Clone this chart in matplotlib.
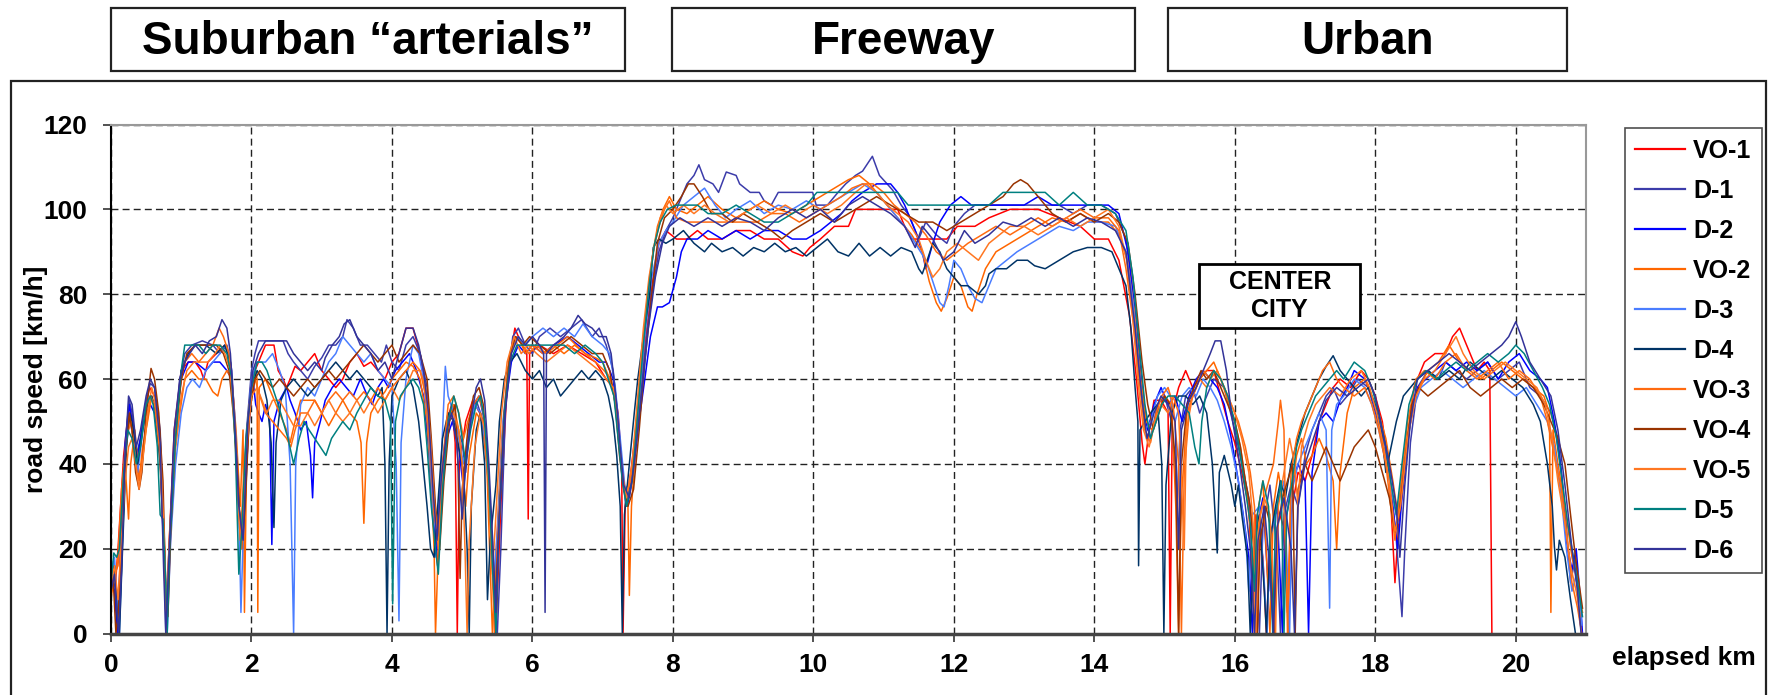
import matplotlib
matplotlib.use("Agg")
import matplotlib.pyplot as plt
from matplotlib.patches import Rectangle

plt.rcParams['font.family'] = ['Liberation Sans', 'DejaVu Sans']
plt.rcParams['font.weight'] = 'bold'

# (elapsed km, road speed km/h)
vo1 = [(0,14),(0.06,11),(0.10,20),(0.18,42),(0.26,54),(0.32,48),(0.38,40),(0.45,50),(0.55,58),(0.62,56),(0.70,44),(0.76,20),(0.79,3),(0.83,22),(0.9,48),(1.0,62),(1.1,64),(1.2,64),(1.28,62),(1.32,60),(1.38,64),(1.5,66),(1.62,68),(1.7,64),(1.76,50),(1.82,30),(1.86,22),(1.92,45),(2.0,60),(2.1,64),(2.2,68),(2.32,68),(2.38,62),(2.45,60),(2.5,58),(2.55,60),(2.62,63),(2.7,62),(2.8,64),(2.9,66),(3.0,62),(3.1,60),(3.2,58),(3.3,60),(3.4,64),(3.5,66),(3.6,63),(3.7,64),(3.8,62),(3.9,60),(4.0,64),(4.1,66),(4.2,72),(4.3,72),(4.4,66),(4.5,54),(4.57,30),(4.65,16),(4.7,30),(4.78,50),(4.85,54),(4.9,45),(4.93,0),(4.96,40),(5.05,50),(5.15,55),(5.25,52),(5.35,45),(5.42,20),(5.48,0),(5.55,30),(5.65,62),(5.75,72),(5.85,68),(5.92,66),(5.94,27),(5.96,66),(6.1,68),(6.3,66),(6.5,68),(6.7,66),(6.9,64),(7.05,60),(7.15,58),(7.22,52),(7.27,40),(7.29,0),(7.32,30),(7.4,38),(7.5,52),(7.6,68),(7.7,82),(7.8,92),(7.9,95),(8.05,93),(8.2,93),(8.35,95),(8.5,93),(8.7,93),(8.9,95),(9.1,95),(9.3,93),(9.5,93),(9.7,90),(9.85,89),(9.95,91),(10.1,93),(10.3,96),(10.5,96),(10.6,100),(10.9,100),(11.2,100),(11.3,96),(11.4,93),(11.6,93),(11.9,93),(12.05,96),(12.3,96),(12.5,98),(12.8,100),(13.2,100),(13.5,98),(13.8,96),(14.0,93),(14.2,93),(14.35,88),(14.5,75),(14.6,60),(14.68,45),(14.72,40),(14.78,48),(14.85,55),(14.95,55),(15.05,52),(15.08,0),(15.11,52),(15.2,58),(15.3,62),(15.4,58),(15.5,60),(15.6,62),(15.7,62),(15.8,56),(15.9,50),(16.0,45),(16.1,38),(16.2,30),(16.25,10),(16.3,28),(16.4,18),(16.45,0),(16.5,22),(16.6,30),(16.7,25),(16.75,5),(16.8,28),(16.9,38),(17.0,36),(17.1,42),(17.2,50),(17.3,54),(17.4,58),(17.5,60),(17.65,58),(17.8,62),(17.9,60),(18.0,56),(18.1,50),(18.2,38),(18.28,12),(18.33,25),(18.45,44),(18.55,58),(18.7,64),(18.85,66),(19.0,66),(19.1,70),(19.2,72),(19.3,68),(19.45,62),(19.55,64),(19.63,62),(19.66,0)]

d1 = [(0,12),(0.04,17),(0.07,8),(0.10,0),(0.13,18),(0.2,45),(0.26,55),(0.3,52),(0.36,42),(0.42,46),(0.5,55),(0.56,59),(0.62,58),(0.7,48),(0.76,20),(0.78,0),(0.82,18),(0.9,45),(0.98,60),(1.05,66),(1.15,68),(1.3,69),(1.45,68),(1.55,66),(1.65,68),(1.72,62),(1.78,45),(1.83,25),(1.87,20),(1.93,48),(2.0,62),(2.05,66),(2.1,69),(2.3,69),(2.45,69),(2.52,66),(2.6,64),(2.7,62),(2.8,60),(2.9,63),(3.0,65),(3.1,68),(3.2,68),(3.3,70),(3.36,74),(3.45,72),(3.55,68),(3.65,68),(3.75,66),(3.85,64),(3.92,68),(4.0,64),(4.1,62),(4.2,68),(4.3,70),(4.4,66),(4.5,58),(4.55,42),(4.6,25),(4.65,20),(4.72,40),(4.8,52),(4.9,50),(5.0,45),(5.05,38),(5.1,48),(5.2,55),(5.3,50),(5.4,30),(5.45,10),(5.5,0),(5.55,20),(5.62,55),(5.72,70),(5.8,72),(5.9,68),(6.0,66),(6.1,70),(6.25,72),(6.4,70),(6.55,72),(6.7,74),(6.85,70),(6.95,72),(7.05,68),(7.15,62),(7.22,50),(7.28,38),(7.33,30),(7.4,36),(7.5,50),(7.6,66),(7.7,80),(7.8,90),(7.9,95),(8.0,98),(8.1,102),(8.2,106),(8.3,108),(8.37,110.5),(8.45,107),(8.57,106),(8.65,104),(8.76,108.8),(8.9,108),(8.95,106),(9.1,104),(9.23,104),(9.3,102),(9.4,101),(9.5,104),(9.61,104),(9.8,104),(9.99,104),(10.04,101),(10.2,101),(10.35,104),(10.46,106),(10.6,108),(10.7,109),(10.84,112.5),(10.94,108),(11.05,106),(11.13,104.5),(11.25,101),(11.36,98.6),(11.45,95),(11.5,93),(11.6,97),(11.75,94),(11.9,92),(12.0,96),(12.15,99),(12.3,101),(12.5,101),(12.7,101),(12.9,101),(13.1,101),(13.3,101),(13.5,101),(13.7,99),(13.9,101),(14.1,101),(14.3,99),(14.45,93),(14.55,80),(14.65,62),(14.73,50),(14.8,46),(14.9,54),(15.0,56),(15.1,50),(15.18,30),(15.22,48),(15.3,56),(15.4,58),(15.5,52),(15.6,56),(15.7,60),(15.85,58),(16.0,48),(16.1,40),(16.2,32),(16.3,18),(16.35,0),(16.4,25),(16.5,35),(16.6,20),(16.65,0),(16.7,28),(16.8,35),(16.9,30),(17.0,42),(17.1,48),(17.2,52),(17.3,56),(17.4,58),(17.5,54),(17.6,56),(17.75,60),(17.9,58),(18.0,52),(18.1,46),(18.2,38),(18.3,22),(18.38,4),(18.42,20),(18.5,45),(18.6,58),(18.75,62),(18.9,60),(19.0,64),(19.15,62),(19.3,60),(19.45,62),(19.6,64),(19.75,60),(19.9,62),(20.05,64),(20.2,58),(20.35,56),(20.5,52),(20.6,46),(20.7,30),(20.78,12),(20.85,18),(20.9,5),(20.94,0)]

d2 = [(0,14),(0.05,10),(0.09,0),(0.13,16),(0.2,44),(0.26,54),(0.3,50),(0.36,40),(0.44,48),(0.5,52),(0.56,54),(0.62,52),(0.7,42),(0.76,15),(0.79,0),(0.84,20),(0.9,46),(1.0,60),(1.1,64),(1.2,64),(1.35,62),(1.45,64),(1.55,64),(1.65,62),(1.72,60),(1.78,44),(1.84,24),(1.88,20),(1.95,46),(2.02,60),(2.06,54),(2.1,52),(2.15,50),(2.2,54),(2.26,50),(2.29,21),(2.32,50),(2.4,55),(2.5,58),(2.55,55),(2.62,52),(2.7,48),(2.78,50),(2.84,42),(2.87,32),(2.9,45),(2.98,50),(3.05,55),(3.15,58),(3.25,60),(3.35,58),(3.45,56),(3.55,60),(3.65,56),(3.72,54),(3.8,58),(3.88,60),(3.95,58),(4.05,62),(4.15,64),(4.25,66),(4.35,62),(4.45,56),(4.52,44),(4.58,28),(4.63,18),(4.7,32),(4.78,46),(4.86,50),(4.95,44),(5.02,34),(5.08,46),(5.16,54),(5.24,56),(5.32,50),(5.38,36),(5.44,15),(5.47,0),(5.52,28),(5.6,52),(5.7,64),(5.8,68),(5.9,66),(6.0,68),(6.15,66),(6.3,68),(6.5,70),(6.65,68),(6.8,66),(6.95,64),(7.05,64),(7.15,60),(7.22,50),(7.28,38),(7.35,30),(7.42,36),(7.5,48),(7.6,60),(7.68,70),(7.78,77),(7.85,77),(7.95,78),(8.05,84),(8.12,90),(8.2,93),(8.35,93),(8.5,95),(8.7,93),(8.9,95),(9.1,93),(9.3,95),(9.5,95),(9.7,93),(9.9,93),(10.1,95),(10.25,97),(10.4,99),(10.55,102),(10.7,104),(10.9,106),(11.1,106),(11.2,104),(11.3,101),(11.45,95),(11.55,90),(11.6,86),(11.7,92),(11.8,97),(11.95,101),(12.1,103),(12.25,101),(12.4,101),(12.6,101),(12.8,101),(13.0,101),(13.2,103),(13.4,101),(13.6,101),(13.8,101),(14.0,101),(14.2,101),(14.35,99),(14.48,90),(14.58,76),(14.68,58),(14.76,48),(14.85,54),(14.95,58),(15.05,54),(15.15,56),(15.25,50),(15.35,56),(15.45,60),(15.55,62),(15.65,60),(15.75,58),(15.85,54),(15.95,46),(16.05,36),(16.12,28),(16.2,18),(16.25,0),(16.3,24),(16.4,32),(16.48,10),(16.52,24),(16.6,30),(16.68,0),(16.72,26),(16.8,34),(16.9,40),(17.0,36),(17.05,0),(17.1,38),(17.2,50),(17.3,52),(17.4,50),(17.5,55),(17.6,58),(17.7,62),(17.85,60),(17.95,56),(18.05,50),(18.15,44),(18.25,30),(18.32,20),(18.38,32),(18.48,48),(18.6,58),(18.72,60),(18.85,62),(19.0,64),(19.15,62),(19.3,64),(19.45,62),(19.6,64),(19.75,60),(19.9,64),(20.05,66),(20.2,62),(20.35,60),(20.45,58),(20.55,50),(20.65,38),(20.72,22),(20.8,15),(20.86,20),(20.92,8),(20.95,0)]

vo2 = [(0,8),(0.05,14),(0.1,16),(0.15,30),(0.2,40),(0.25,27),(0.28,40),(0.34,48),(0.4,36),(0.45,44),(0.52,50),(0.58,56),(0.64,52),(0.7,40),(0.76,18),(0.79,2),(0.84,22),(0.9,42),(0.98,52),(1.05,60),(1.15,62),(1.25,60),(1.35,60),(1.45,57),(1.52,56),(1.58,60),(1.65,62),(1.72,60),(1.78,48),(1.84,30),(1.88,48),(1.9,5),(1.93,40),(2.0,58),(2.05,62),(2.08,60),(2.09,5),(2.11,58),(2.2,60),(2.3,56),(2.4,52),(2.5,48),(2.55,45),(2.62,50),(2.7,55),(2.8,55),(2.9,55),(3.0,52),(3.1,49),(3.2,52),(3.3,55),(3.4,52),(3.5,50),(3.56,45),(3.6,26),(3.64,45),(3.7,52),(3.8,55),(3.9,57),(4.0,60),(4.1,62),(4.2,64),(4.3,63),(4.4,60),(4.5,50),(4.56,35),(4.6,20),(4.62,0),(4.66,20),(4.72,40),(4.8,50),(4.88,54),(4.95,48),(5.0,40),(5.05,30),(5.1,42),(5.2,52),(5.28,50),(5.35,40),(5.4,15),(5.43,0),(5.48,18),(5.56,45),(5.65,62),(5.72,68),(5.8,70),(5.9,66),(6.0,68),(6.15,66),(6.3,68),(6.45,66),(6.6,68),(6.75,66),(6.9,65),(7.0,64),(7.1,60),(7.18,56),(7.25,44),(7.3,36),(7.36,30),(7.38,9),(7.41,30),(7.48,46),(7.55,62),(7.62,76),(7.7,88),(7.78,96),(7.86,100),(7.95,103),(8.05,100),(8.2,99),(8.35,101),(8.5,103),(8.7,100),(8.9,98),(9.1,100),(9.3,102),(9.5,100),(9.7,99),(9.9,101),(10.1,103),(10.3,105),(10.5,107),(10.65,108),(10.8,106),(10.95,103),(11.1,100),(11.25,97),(11.4,94),(11.55,90),(11.65,83),(11.75,78),(11.82,76),(11.9,79),(12.0,84),(12.1,82),(12.2,77),(12.26,76),(12.33,80),(12.45,86),(12.6,90),(12.8,92),(13.0,94),(13.2,96),(13.4,98),(13.6,97),(13.8,99),(14.0,97),(14.2,97),(14.35,94),(14.47,88),(14.57,76),(14.66,60),(14.74,50),(14.82,48),(14.9,52),(15.0,56),(15.1,54),(15.16,30),(15.2,0),(15.24,32),(15.32,52),(15.4,56),(15.5,60),(15.6,62),(15.7,64),(15.8,60),(15.9,55),(16.0,50),(16.08,44),(16.15,36),(16.22,25),(16.28,0),(16.32,28),(16.4,36),(16.46,15),(16.5,0),(16.55,30),(16.62,38),(16.7,30),(16.76,0),(16.8,32),(16.88,42),(16.95,46),(17.02,40),(17.1,42),(17.2,46),(17.3,42),(17.4,36),(17.45,20),(17.5,38),(17.6,52),(17.7,58),(17.85,60),(17.95,56),(18.05,52),(18.15,46),(18.25,36),(18.32,28),(18.4,40),(18.5,52),(18.62,58),(18.75,62),(18.9,64),(19.05,68),(19.2,64),(19.35,62),(19.5,60),(19.65,62),(19.8,64),(19.95,62),(20.1,60),(20.25,58),(20.4,56),(20.48,52),(20.5,5),(20.53,48),(20.6,40),(20.7,30),(20.8,18),(20.88,12),(20.95,5)]

d3 = [(0,12),(0.05,18),(0.08,10),(0.12,0),(0.16,20),(0.22,46),(0.27,50),(0.32,46),(0.38,38),(0.44,46),(0.5,54),(0.56,56),(0.62,54),(0.7,46),(0.76,20),(0.8,0),(0.85,22),(0.92,40),(1.0,52),(1.08,58),(1.16,60),(1.26,58),(1.35,62),(1.45,64),(1.55,66),(1.62,68),(1.7,64),(1.76,52),(1.82,30),(1.85,5),(1.88,22),(1.94,48),(2.0,60),(2.08,64),(2.2,64),(2.3,66),(2.4,62),(2.48,58),(2.55,40),(2.6,0),(2.63,40),(2.7,54),(2.8,58),(2.9,56),(3.0,60),(3.1,64),(3.2,66),(3.3,70),(3.4,68),(3.5,66),(3.6,64),(3.7,66),(3.8,62),(3.9,60),(4.0,58),(4.06,40),(4.1,3),(4.13,45),(4.2,60),(4.3,68),(4.38,66),(4.45,60),(4.52,48),(4.58,30),(4.64,22),(4.7,40),(4.76,63),(4.8,56),(4.88,52),(4.95,46),(5.02,40),(5.1,48),(5.18,54),(5.26,52),(5.34,44),(5.4,28),(5.45,12),(5.5,24),(5.58,50),(5.68,66),(5.78,70),(5.88,68),(6.0,70),(6.15,72),(6.3,70),(6.45,72),(6.6,70),(6.72,73),(6.85,70),(7.0,68),(7.1,66),(7.18,58),(7.25,46),(7.32,34),(7.4,36),(7.5,52),(7.6,70),(7.7,84),(7.8,92),(7.9,95),(8.0,97),(8.15,101),(8.3,103),(8.45,105),(8.6,101),(8.75,98),(8.9,100),(9.1,102),(9.3,99),(9.5,101),(9.7,100),(9.9,102),(10.1,100),(10.3,102),(10.5,104),(10.7,106),(10.9,104),(11.1,100),(11.3,96),(11.45,92),(11.6,88),(11.72,82),(11.8,78),(11.86,77),(11.93,82),(12.0,88),(12.1,86),(12.2,82),(12.3,79),(12.4,78),(12.5,82),(12.6,86),(12.75,88),(12.9,90),(13.1,92),(13.3,94),(13.5,96),(13.7,95),(13.9,97),(14.1,97),(14.3,96),(14.45,90),(14.55,78),(14.65,60),(14.72,48),(14.8,50),(14.9,56),(15.0,58),(15.08,56),(15.15,50),(15.25,56),(15.35,58),(15.45,56),(15.55,60),(15.65,58),(15.75,55),(15.85,50),(15.95,44),(16.05,36),(16.15,24),(16.2,10),(16.25,28),(16.35,30),(16.42,12),(16.46,0),(16.5,22),(16.6,30),(16.7,36),(16.78,0),(16.82,34),(16.9,40),(17.0,44),(17.1,48),(17.2,52),(17.3,48),(17.35,6),(17.38,48),(17.45,54),(17.55,56),(17.7,60),(17.85,58),(17.95,54),(18.05,48),(18.15,40),(18.25,32),(18.32,26),(18.42,40),(18.52,52),(18.65,58),(18.8,60),(18.95,62),(19.1,60),(19.25,58),(19.4,60),(19.55,62),(19.7,60),(19.85,58),(20.0,56),(20.15,58),(20.3,54),(20.45,50),(20.55,44),(20.65,32),(20.72,20),(20.8,10),(20.88,15),(20.94,2)]

d4 = [(0,14),(0.05,16),(0.09,4),(0.12,0),(0.16,18),(0.22,44),(0.27,52),(0.32,48),(0.38,40),(0.45,48),(0.52,54),(0.58,56),(0.64,52),(0.7,40),(0.76,20),(0.79,0),(0.84,24),(0.92,48),(1.0,62),(1.1,66),(1.2,68),(1.35,68),(1.5,66),(1.62,68),(1.7,64),(1.76,50),(1.82,30),(1.87,22),(1.94,46),(2.0,58),(2.08,62),(2.15,60),(2.22,55),(2.28,45),(2.32,25),(2.35,45),(2.42,55),(2.5,58),(2.6,60),(2.7,58),(2.8,56),(2.9,58),(3.0,60),(3.1,62),(3.2,64),(3.3,62),(3.4,60),(3.5,62),(3.6,60),(3.7,58),(3.8,56),(3.86,58),(3.9,40),(3.93,0),(3.96,40),(4.0,56),(4.1,60),(4.2,62),(4.3,58),(4.38,50),(4.43,42),(4.5,30),(4.55,20),(4.6,18),(4.66,32),(4.72,46),(4.8,52),(4.88,50),(4.95,44),(5.02,38),(5.07,20),(5.1,0),(5.13,30),(5.2,48),(5.26,52),(5.32,40),(5.36,8),(5.4,22),(5.48,35),(5.53,50),(5.6,60),(5.68,64),(5.78,66),(5.9,62),(6.0,60),(6.1,62),(6.2,58),(6.3,60),(6.4,56),(6.5,58),(6.6,60),(6.7,62),(6.8,60),(6.9,62),(7.0,60),(7.08,56),(7.15,50),(7.2,42),(7.25,30),(7.28,0),(7.31,28),(7.38,40),(7.45,52),(7.5,60),(7.58,70),(7.67,80),(7.72,91),(7.8,93),(7.9,92),(8.0,93),(8.15,95),(8.3,92),(8.45,90),(8.55,92),(8.7,90),(8.85,91),(9.0,89),(9.15,91),(9.3,90),(9.45,92),(9.6,90),(9.75,91),(9.9,89),(10.05,91),(10.2,93),(10.35,90),(10.5,89),(10.65,92),(10.8,89),(10.95,91),(11.1,89),(11.25,91),(11.4,90),(11.5,86),(11.55,84.8),(11.62,88),(11.7,92),(11.8,90),(11.9,86),(12.0,84),(12.1,82),(12.2,82),(12.35,80),(12.45,82),(12.5,84.8),(12.6,86),(12.75,86),(12.9,88),(13.05,88),(13.15,86.7),(13.3,86),(13.5,88),(13.7,90),(13.9,91),(14.1,91),(14.25,90),(14.35,86),(14.45,82),(14.52,72),(14.58,58),(14.62,50),(14.63,16),(14.65,48),(14.72,50),(14.8,52),(14.9,54),(14.96,40),(14.99,0),(15.02,35),(15.1,52),(15.2,56),(15.3,56),(15.4,54),(15.5,56),(15.6,52),(15.68,40),(15.73,25),(15.75,19),(15.78,38),(15.85,42),(15.95,35),(16.0,30),(16.05,35),(16.1,28),(16.18,18),(16.22,0),(16.26,20),(16.35,28),(16.42,10),(16.45,0),(16.5,22),(16.58,30),(16.65,36),(16.72,32),(16.8,40),(16.9,46),(17.0,52),(17.1,56),(17.2,60),(17.3,63),(17.4,65.5),(17.5,62),(17.6,60),(17.7,58),(17.8,56),(17.9,58),(18.0,54),(18.1,46),(18.15,38),(18.2,42),(18.3,50),(18.4,56),(18.5,58),(18.6,60),(18.75,62),(18.9,60),(19.05,62),(19.2,60),(19.35,64),(19.5,62),(19.65,60),(19.8,62),(19.95,60),(20.1,58),(20.25,54),(20.35,50),(20.45,40),(20.52,30),(20.55,20.5),(20.58,15),(20.62,22),(20.7,18),(20.78,8),(20.85,0)]

vo3 = [(0,16),(0.05,12),(0.1,18),(0.15,34),(0.22,46),(0.28,50),(0.33,44),(0.38,36),(0.44,40),(0.5,48),(0.56,56),(0.62,54),(0.7,42),(0.76,16),(0.79,0),(0.83,18),(0.9,44),(0.98,58),(1.05,64),(1.15,66),(1.25,64),(1.35,66),(1.45,68),(1.54,72),(1.6,70),(1.68,66),(1.75,54),(1.8,36),(1.84,22),(1.9,40),(1.97,54),(2.05,60),(2.12,56),(2.2,52),(2.3,50),(2.4,48),(2.5,46),(2.56,44),(2.62,48),(2.7,52),(2.8,52),(2.9,55),(3.0,52),(3.1,55),(3.2,57),(3.3,55),(3.4,57),(3.5,55),(3.6,57),(3.7,55),(3.8,58),(3.9,55),(4.0,58),(4.1,60),(4.2,62),(4.3,64),(4.4,62),(4.48,56),(4.55,42),(4.6,28),(4.66,22),(4.72,40),(4.8,54),(4.88,56),(4.95,52),(5.02,46),(5.08,50),(5.16,54),(5.24,56),(5.3,52),(5.36,38),(5.42,18),(5.46,0),(5.5,20),(5.58,48),(5.66,64),(5.76,70),(5.86,68),(5.95,66),(6.05,68),(6.2,66),(6.35,68),(6.5,70),(6.62,68),(6.75,66),(6.9,64),(7.02,62),(7.12,60),(7.2,52),(7.26,40),(7.32,32),(7.4,36),(7.48,50),(7.56,66),(7.64,80),(7.72,90),(7.8,96),(7.88,100),(7.95,102),(8.05,98),(8.2,97),(8.4,97),(8.6,97),(8.8,97),(9.0,97),(9.2,97),(9.4,99),(9.6,99),(9.8,97),(10.0,99),(10.2,101),(10.4,103),(10.55,105),(10.7,106),(10.85,106),(11.0,104),(11.15,101),(11.3,99),(11.45,97),(11.6,94),(11.75,90),(11.9,88),(12.05,90),(12.2,92),(12.4,94),(12.6,96),(12.8,94),(13.0,96),(13.2,98),(13.4,96),(13.6,98),(13.8,100),(14.0,98),(14.2,98),(14.35,95),(14.45,86),(14.55,74),(14.65,58),(14.72,48),(14.8,45),(14.88,52),(14.96,56),(15.05,58),(15.12,54),(15.2,40),(15.24,0),(15.28,38),(15.36,54),(15.45,58),(15.55,62),(15.65,60),(15.75,62),(15.85,58),(15.95,54),(16.05,50),(16.15,44),(16.22,38),(16.28,30),(16.32,0),(16.36,28),(16.45,34),(16.55,40),(16.62,50),(16.65,55),(16.7,48),(16.75,0),(16.8,38),(16.88,46),(16.95,50),(17.05,54),(17.15,58),(17.25,62),(17.35,64),(17.45,60),(17.55,58),(17.7,56),(17.85,58),(17.95,54),(18.05,48),(18.15,40),(18.22,30),(18.28,22),(18.36,34),(18.46,50),(18.58,60),(18.7,62),(18.85,60),(19.0,64),(19.15,66),(19.3,62),(19.45,60),(19.6,62),(19.75,64),(19.9,60),(20.05,62),(20.2,60),(20.35,56),(20.45,50),(20.55,42),(20.65,34),(20.72,24),(20.8,12),(20.88,6),(20.94,0)]

vo4 = [(0,18),(0.04,10),(0.07,0),(0.1,4),(0.14,18),(0.2,40),(0.26,52),(0.3,48),(0.35,38),(0.4,34),(0.44,38),(0.5,52),(0.57,62.5),(0.62,60),(0.68,52),(0.74,36),(0.78,10),(0.81,4),(0.85,24),(0.92,46),(1.0,60),(1.08,66),(1.2,68),(1.3,68),(1.4,68),(1.5,68),(1.6,66),(1.68,62),(1.74,52),(1.8,38),(1.86,20),(1.91,30),(1.97,52),(2.05,60),(2.12,62),(2.2,60),(2.3,58),(2.4,60),(2.5,58),(2.6,56),(2.7,58),(2.8,60),(2.9,58),(3.0,60),(3.1,62),(3.2,60),(3.3,62),(3.4,64),(3.5,66),(3.6,68),(3.7,66),(3.8,64),(3.9,66),(4.0,68),(4.1,64),(4.2,66),(4.3,68),(4.4,66),(4.5,60),(4.56,46),(4.62,30),(4.68,20),(4.74,36),(4.82,50),(4.9,54),(4.94,40),(4.97,13),(5.0,34),(5.08,48),(5.16,56),(5.24,58),(5.3,54),(5.36,40),(5.42,22),(5.47,8),(5.52,24),(5.6,52),(5.68,66),(5.76,70),(5.86,68),(5.96,70),(6.1,68),(6.25,66),(6.4,68),(6.55,70),(6.7,68),(6.85,66),(7.0,66),(7.1,62),(7.18,54),(7.24,42),(7.3,34),(7.36,30),(7.44,34),(7.52,48),(7.6,64),(7.7,80),(7.78,92),(7.88,98),(8.0,100),(8.12,103),(8.22,106),(8.3,106),(8.42,103),(8.55,99),(8.7,99),(8.85,97),(9.0,99),(9.2,97),(9.4,95),(9.55,93),(9.7,95),(9.9,97),(10.1,99),(10.3,97),(10.5,99),(10.7,101),(10.9,103),(11.1,101),(11.3,99),(11.5,97),(11.7,97),(11.9,95),(12.1,97),(12.3,99),(12.5,101),(12.7,103),(12.85,106),(12.95,107),(13.05,106),(13.2,103),(13.4,99),(13.6,97),(13.8,99),(14.0,97),(14.2,99),(14.35,97),(14.48,92),(14.58,80),(14.68,64),(14.76,54),(14.84,48),(14.92,52),(15.0,56),(15.08,54),(15.16,40),(15.2,0),(15.24,40),(15.32,54),(15.42,58),(15.52,62),(15.6,60),(15.7,62),(15.8,58),(15.9,54),(16.0,50),(16.08,44),(16.15,36),(16.22,30),(16.28,18),(16.32,0),(16.36,22),(16.44,30),(16.5,26),(16.56,0),(16.6,24),(16.68,32),(16.75,36),(16.82,40),(16.86,0),(16.9,34),(17.0,40),(17.1,36),(17.2,40),(17.3,44),(17.4,40),(17.5,36),(17.6,40),(17.7,44),(17.8,46),(17.9,48),(18.0,44),(18.1,38),(18.2,32),(18.28,24),(18.34,28),(18.42,40),(18.52,54),(18.62,58),(18.75,56),(18.9,58),(19.05,60),(19.2,62),(19.35,58),(19.5,56),(19.65,58),(19.8,60),(19.95,58),(20.1,60),(20.25,58),(20.4,54),(20.5,50),(20.6,46),(20.7,40),(20.78,28),(20.85,18),(20.9,12),(20.95,6)]

vo5 = [(0,12),(0.05,16),(0.1,8),(0.14,20),(0.2,36),(0.25,44),(0.3,46),(0.35,40),(0.4,34),(0.46,42),(0.52,52),(0.58,58),(0.64,54),(0.7,44),(0.76,22),(0.79,6),(0.84,26),(0.92,44),(1.0,56),(1.08,62),(1.18,64),(1.28,64),(1.38,64),(1.48,66),(1.56,68),(1.62,66),(1.7,62),(1.76,48),(1.82,28),(1.86,20),(1.92,42),(2.0,56),(2.08,58),(2.15,55),(2.22,52),(2.3,55),(2.4,55),(2.5,52),(2.6,49),(2.7,49),(2.8,52),(2.9,49),(3.0,52),(3.1,55),(3.2,52),(3.3,50),(3.4,52),(3.5,55),(3.6,52),(3.7,55),(3.8,52),(3.9,55),(4.0,58),(4.1,55),(4.2,58),(4.3,62),(4.4,62),(4.48,58),(4.55,46),(4.6,32),(4.66,20),(4.72,38),(4.8,50),(4.88,52),(4.95,48),(5.0,40),(5.04,20),(5.07,0),(5.1,22),(5.18,44),(5.26,52),(5.32,48),(5.38,34),(5.43,14),(5.48,28),(5.56,52),(5.64,64),(5.74,70),(5.84,66),(5.94,68),(6.06,66),(6.2,64),(6.35,66),(6.5,68),(6.65,66),(6.8,64),(6.95,62),(7.05,60),(7.15,58),(7.22,48),(7.28,38),(7.34,32),(7.42,40),(7.5,56),(7.58,72),(7.66,84),(7.74,92),(7.82,98),(7.9,101),(8.0,99),(8.15,101),(8.3,99),(8.45,101),(8.6,99),(8.8,97),(9.0,99),(9.2,101),(9.4,99),(9.6,101),(9.8,99),(10.0,101),(10.2,99),(10.4,101),(10.6,104),(10.75,106),(10.9,104),(11.05,101),(11.2,99),(11.35,97),(11.5,93),(11.6,88),(11.7,84),(11.8,86),(11.9,90),(12.05,92),(12.2,90),(12.35,88),(12.5,92),(12.65,94),(12.8,96),(13.0,96),(13.2,94),(13.4,96),(13.6,98),(13.8,96),(14.0,98),(14.2,100),(14.35,96),(14.46,88),(14.55,74),(14.63,58),(14.7,48),(14.78,44),(14.86,50),(14.95,54),(15.05,52),(15.12,56),(15.2,52),(15.28,20),(15.31,48),(15.4,56),(15.5,60),(15.6,58),(15.7,62),(15.8,60),(15.9,56),(16.0,52),(16.1,46),(16.2,38),(16.26,26),(16.3,0),(16.34,26),(16.42,32),(16.5,28),(16.58,0),(16.62,30),(16.7,38),(16.78,46),(16.85,40),(16.9,30),(16.95,44),(17.05,50),(17.15,54),(17.25,56),(17.35,58),(17.5,56),(17.65,60),(17.8,62),(17.92,58),(18.02,52),(18.12,44),(18.2,36),(18.28,24),(18.36,30),(18.46,46),(18.58,56),(18.7,60),(18.85,62),(19.0,66),(19.15,70),(19.25,66),(19.4,62),(19.55,60),(19.7,62),(19.85,64),(20.0,62),(20.15,60),(20.3,58),(20.42,54),(20.52,46),(20.6,36),(20.7,26),(20.78,16),(20.86,10),(20.92,4)]

d5 = [(0,12),(0.04,19),(0.08,18),(0.12,20),(0.18,38),(0.24,48),(0.3,46),(0.36,40),(0.42,44),(0.5,54),(0.56,56),(0.6,54),(0.66,44),(0.7,28),(0.74,27),(0.78,12),(0.8,0),(0.84,22),(0.92,46),(1.0,62),(1.05,68),(1.15,68),(1.25,68),(1.35,66),(1.45,68),(1.55,68),(1.65,66),(1.72,60),(1.77,44),(1.82,14),(1.86,24),(1.92,46),(2.0,58),(2.08,64),(2.15,64),(2.22,62),(2.3,58),(2.38,54),(2.45,50),(2.52,46),(2.6,40),(2.68,46),(2.75,50),(2.82,48),(2.9,46),(2.98,44),(3.06,42),(3.14,46),(3.22,48),(3.3,50),(3.4,48),(3.5,52),(3.6,55),(3.7,58),(3.8,56),(3.9,55),(3.98,50),(4.01,7),(4.05,50),(4.12,56),(4.2,58),(4.3,60),(4.38,58),(4.45,54),(4.5,44),(4.56,30),(4.62,20),(4.66,14),(4.72,34),(4.8,50),(4.88,56),(4.95,52),(5.0,46),(5.05,40),(5.12,48),(5.2,54),(5.26,56),(5.32,50),(5.38,36),(5.43,16),(5.48,0),(5.52,24),(5.6,52),(5.68,64),(5.78,68),(5.88,68),(6.0,68),(6.15,68),(6.3,68),(6.45,68),(6.6,66),(6.75,68),(6.9,66),(7.0,64),(7.08,60),(7.16,56),(7.22,46),(7.28,36),(7.34,30),(7.42,36),(7.5,52),(7.58,68),(7.66,82),(7.74,92),(7.82,97),(7.92,100),(8.05,101),(8.2,101),(8.35,101),(8.5,99),(8.7,99),(8.9,101),(9.1,99),(9.3,97),(9.5,97),(9.7,99),(9.9,101),(10.05,104),(10.2,104),(10.4,104),(10.6,104),(10.8,104),(11.0,104),(11.2,104),(11.35,101),(11.5,101),(11.7,101),(11.9,101),(12.1,101),(12.3,101),(12.5,101),(12.7,104),(12.9,104),(13.1,104),(13.3,104),(13.5,101),(13.7,104),(13.9,101),(14.1,101),(14.3,99),(14.45,95),(14.55,84),(14.65,66),(14.72,54),(14.8,46),(14.88,50),(14.96,54),(15.05,56),(15.15,56),(15.25,54),(15.35,52),(15.43,44),(15.49,40),(15.53,50),(15.6,58),(15.7,62),(15.8,60),(15.9,56),(16.0,50),(16.08,42),(16.15,34),(16.22,26),(16.28,10),(16.32,28),(16.4,36),(16.48,30),(16.54,0),(16.58,28),(16.66,36),(16.7,0),(16.74,28),(16.8,34),(16.88,44),(16.95,48),(17.05,52),(17.15,56),(17.25,58),(17.35,60),(17.45,62),(17.55,60),(17.7,64),(17.85,62),(17.95,58),(18.05,52),(18.15,44),(18.22,36),(18.3,28),(18.38,40),(18.48,54),(18.6,60),(18.72,62),(18.88,60),(19.0,62),(19.15,64),(19.3,62),(19.45,64),(19.6,66),(19.75,64),(19.9,66),(20.0,68),(20.12,66),(20.25,62),(20.38,58),(20.48,54),(20.58,46),(20.66,36),(20.74,26),(20.82,18),(20.9,10),(20.95,4)]

d6 = [(0,10),(0.05,14),(0.08,6),(0.11,0),(0.15,15),(0.2,42),(0.25,56),(0.3,54),(0.36,44),(0.42,48),(0.5,56),(0.56,60),(0.62,58),(0.7,45),(0.75,15),(0.78,0),(0.83,20),(0.9,48),(0.98,60),(1.05,64),(1.12,66),(1.2,68),(1.3,66),(1.4,69),(1.5,70),(1.58,74),(1.65,72),(1.7,66),(1.76,50),(1.82,30),(1.88,22),(1.95,50),(2.02,62),(2.1,66),(2.2,69),(2.35,69),(2.5,69),(2.6,66),(2.7,64),(2.8,62),(2.9,64),(3.0,62),(3.05,65),(3.15,68),(3.25,70),(3.32,73),(3.4,74),(3.5,70),(3.6,68),(3.7,66),(3.8,62),(3.9,64),(4.0,60),(4.1,66),(4.2,72),(4.3,72),(4.38,68),(4.45,62),(4.52,52),(4.58,35),(4.64,22),(4.7,36),(4.78,48),(4.85,52),(4.92,45),(5.0,27),(5.05,40),(5.12,50),(5.2,58),(5.26,60),(5.32,55),(5.38,40),(5.44,20),(5.48,5),(5.52,25),(5.6,50),(5.7,66),(5.8,70),(5.9,68),(6.0,70),(6.1,68),(6.16,66),(6.18,5),(6.2,66),(6.3,68),(6.45,70),(6.55,72),(6.65,75),(6.75,73),(6.85,72),(6.95,70),(7.05,70),(7.12,66),(7.2,54),(7.25,44),(7.3,35),(7.38,32),(7.45,40),(7.55,56),(7.65,72),(7.75,84),(7.85,92),(7.95,96),(8.1,98),(8.3,96),(8.5,98),(8.7,96),(8.9,98),(9.1,97),(9.3,95),(9.5,98),(9.7,100),(9.9,98),(10.1,100),(10.3,97),(10.5,101),(10.7,103),(10.9,101),(11.1,99),(11.3,96),(11.45,91),(11.55,96),(11.7,93),(11.85,88),(12.0,90),(12.15,95),(12.3,92),(12.5,94),(12.7,97),(12.9,96),(13.1,98),(13.3,96),(13.5,98),(13.7,96),(13.9,98),(14.1,97),(14.3,95),(14.45,90),(14.58,72),(14.68,55),(14.75,46),(14.85,52),(14.95,56),(15.05,54),(15.15,50),(15.2,20),(15.24,48),(15.35,55),(15.45,58),(15.55,62),(15.65,66),(15.72,69),(15.8,69),(15.88,62),(15.95,52),(16.05,42),(16.15,30),(16.22,20),(16.28,0),(16.33,22),(16.42,30),(16.5,15),(16.55,0),(16.6,25),(16.7,32),(16.8,20),(16.85,0),(16.9,30),(17.0,40),(17.1,45),(17.2,50),(17.3,55),(17.45,58),(17.6,56),(17.75,58),(17.9,60),(18.0,56),(18.1,48),(18.2,40),(18.3,30),(18.35,18),(18.42,35),(18.5,50),(18.6,60),(18.75,62),(18.9,64),(19.05,66),(19.2,64),(19.35,62),(19.5,64),(19.65,66),(19.8,68),(19.9,70),(20.0,73.5),(20.08,70),(20.2,64),(20.35,60),(20.5,56),(20.6,48),(20.7,35),(20.8,20),(20.88,10),(20.93,0)]

labels = ['VO-1', 'D-1', 'D-2', 'VO-2', 'D-3', 'D-4', 'VO-3', 'VO-4', 'VO-5', 'D-5', 'D-6']
runs = [vo1, d1, d2, vo2, d3, d4, vo3, vo4, vo5, d5, d6]
colors = ['#FF0000', '#3C3CAA', '#0000FF', '#FF6600', '#4A7DFF', '#003366',
          '#FF6A10', '#993300', '#FF7722', '#008080', '#333399']

sections = ['Suburban \u201carterials\u201d', 'Freeway', 'Urban']

W, H = 1774, 695
fig = plt.figure(figsize=(W / 100, H / 100), dpi=100)

def fx(px):
    return px / W

def fy(py):
    return 1 - py / H

# outer frame, open at the bottom
fig.add_artist(Rectangle((fx(11), -0.05), fx(1766) - fx(11), fy(81) + 0.05,
                         transform=fig.transFigure, fill=False, lw=1.6, ec='#222222'))

# section header boxes
boxes = [(111, 625), (672, 1135), (1168, 1567)]
for (x0, x1), name in zip(boxes, sections):
    fig.add_artist(Rectangle((fx(x0), fy(71)), fx(x1) - fx(x0), fy(8) - fy(71),
                             transform=fig.transFigure, fill=False, lw=1.6, ec='#222222'))
    fig.text((fx(x0) + fx(x1)) / 2, (fy(8) + fy(71)) / 2 - 0.004, name, ha='center', va='center',
             fontsize=33, fontweight='bold')

ax = fig.add_axes([fx(111), fy(633.6), fx(1586) - fx(111), fy(124.5) - fy(633.6)])

for data, lab, col in zip(runs, labels, colors):
    km = [p[0] for p in data]
    v = [p[1] for p in data]
    ax.plot(km, v, color=col, lw=1.1, label=lab)

ax.set_xlim(0, 21)
ax.set_ylim(0, 120)
ax.set_xticks(range(0, 21, 2))
ax.set_yticks(range(0, 121, 20))
ax.grid(True, ls=(0, (5, 3)), color='#222222', lw=1.0)
ax.set_axisbelow(True)
ax.tick_params(axis='both', labelsize=19, direction='out', length=6, width=1.2, color='#333333')
ax.tick_params(axis='x', pad=8)
ax.tick_params(axis='y', pad=11)
for t in ax.get_xticklabels() + ax.get_yticklabels():
    t.set_fontweight('bold')

ax.spines['left'].set_color('black')
ax.spines['left'].set_linewidth(1.5)
ax.spines['bottom'].set_color('#444444')
ax.spines['bottom'].set_linewidth(2.5)
for s in ['top', 'right']:
    ax.spines[s].set_color('#999999')
    ax.spines[s].set_linewidth(1.5)

fig.text(fx(36), fy(379), 'road speed [km/h]', rotation=90, ha='center', va='center',
         fontsize=19, fontweight='bold')
fig.text(fx(1684), fy(658), 'elapsed km', ha='center', va='center',
         fontsize=19, fontweight='bold')

# CENTER CITY label box
ax.add_patch(Rectangle((15.49, 72.0), 2.29, 15.1, fc='white', ec='black', lw=2.0, zorder=5))
ax.text(16.64, 79.5, 'CENTER\nCITY', ha='center', va='center', fontsize=18,
        fontweight='bold', linespacing=1.2, zorder=6)

leg = fig.legend(loc='upper left', bbox_to_anchor=(fx(1625), fy(128)), bbox_transform=fig.transFigure,
                 fontsize=18, frameon=True, fancybox=False, borderaxespad=0, borderpad=0.42,
                 handlelength=2.0, handletextpad=0.3, labelspacing=0.64)
leg.get_frame().set_edgecolor('#222222')
leg.get_frame().set_linewidth(1.2)
for t in leg.get_texts():
    t.set_fontweight('bold')
for ln in leg.get_lines():
    ln.set_linewidth(1.6)

fig.savefig('out.png', dpi=100)
